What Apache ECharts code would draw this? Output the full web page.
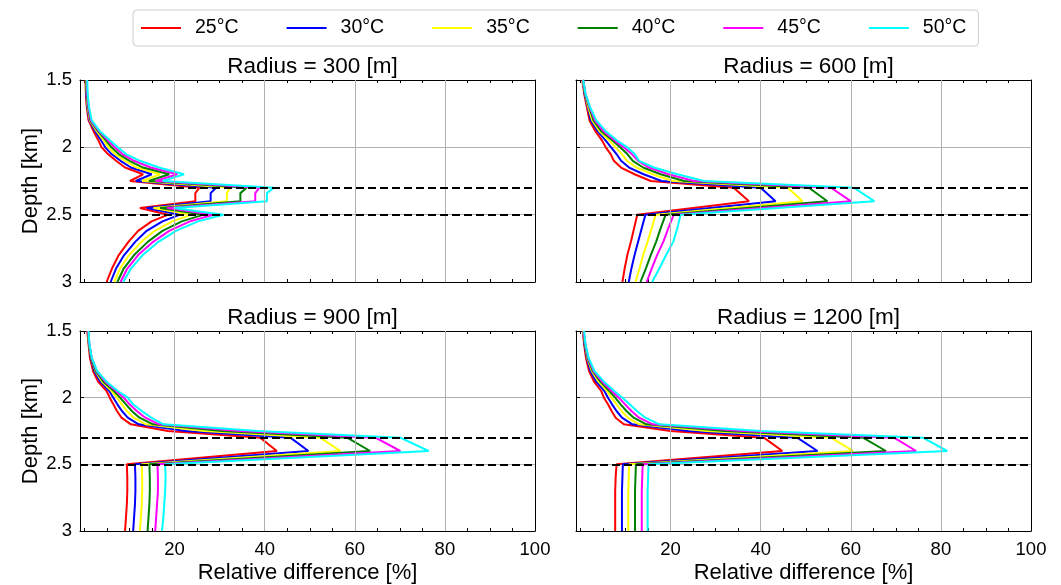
<!DOCTYPE html>
<html><head><meta charset="utf-8">
<script src="https://cdn.jsdelivr.net/npm/echarts@6/dist/echarts.min.js"></script>
<style>html,body{margin:0;padding:0;background:#fff}#c{width:1061px;height:585px}</style>
</head><body><div id="c"></div>
<script>
// ---------- data ----------
const temps = ['25°C', '30°C', '35°C', '40°C', '45°C', '50°C'];
const radiusTitles = ['Radius = 300 [m]', 'Radius = 600 [m]', 'Radius = 900 [m]', 'Radius = 1200 [m]'];
const xLabelTicks = [20, 40, 60, 80, 100];
const xMinorTicks = [0, 5, 10, 15, 20, 25, 30, 35, 40, 45, 50, 55, 60, 65, 70, 75, 80, 85, 90, 95, 100];
const xGridValues = [20, 40, 60, 80];
const refDepths = [2.3, 2.5];

const depthR300 = [1.5, 1.6, 1.7, 1.8, 1.88, 1.95, 2.0, 2.05, 2.1, 2.15, 2.2, 2.25, 2.3, 2.34, 2.4, 2.45, 2.5, 2.55, 2.62, 2.7, 2.8, 2.9, 3.0];
const depthWide = [1.5, 1.6, 1.7, 1.8, 1.88, 1.95, 2.0, 2.05, 2.1, 2.15, 2.2, 2.25, 2.3, 2.4, 2.5, 2.6, 2.7, 2.8, 2.9, 3.0];

// Radius 300
const r300_25 = [0.2, 0.3, 0.5, 0.9, 2.0, 3.1, 3.8, 5.2, 7.0, 9.0, 13.0, 10.1, 25.5, 24.6, 24.6, 12.3, 18.6, 14.9, 11.9, 9.8, 7.6, 6.1, 4.9];
const r300_30 = [0.3, 0.4, 0.6, 1.1, 2.4, 3.7, 4.6, 6.0, 8.0, 10.3, 14.9, 11.4, 29.2, 28.0, 28.0, 13.8, 21.2, 17.3, 13.8, 11.3, 8.8, 7.0, 5.8];
const r300_35 = [0.3, 0.5, 0.7, 1.2, 2.7, 4.3, 5.3, 6.8, 9.0, 11.6, 16.8, 12.8, 32.3, 31.6, 31.6, 15.3, 23.8, 19.5, 15.6, 12.7, 9.9, 7.9, 6.6];
const r300_40 = [0.4, 0.5, 0.8, 1.3, 3.0, 4.8, 6.0, 7.6, 10.0, 13.0, 18.8, 14.3, 36.0, 34.6, 34.6, 16.8, 26.4, 21.6, 17.3, 14.1, 11.0, 8.7, 7.3];
const r300_45 = [0.5, 0.6, 0.9, 1.4, 3.2, 5.2, 6.7, 8.4, 11.0, 14.7, 20.6, 15.8, 38.8, 37.9, 37.9, 18.3, 28.6, 23.4, 18.8, 15.3, 11.9, 9.5, 8.0];
const r300_50 = [0.6, 0.7, 1.0, 1.6, 3.4, 5.7, 7.4, 9.2, 12.3, 16.5, 22.1, 17.4, 42.0, 40.5, 40.5, 19.8, 30.8, 25.2, 20.3, 16.5, 12.9, 10.3, 8.6];

// Radius 600
const r600_25 = [0.4, 0.8, 1.4, 2.0, 3.3, 4.8, 5.6, 6.7, 7.4, 9.0, 12.0, 15.6, 34.0, 37.4, 12.6, 11.9, 11.2, 10.4, 9.8, 9.3];
const r600_30 = [0.5, 0.9, 1.6, 2.3, 3.8, 5.6, 6.8, 8.0, 9.0, 10.8, 14.0, 18.0, 40.0, 43.3, 14.4, 13.6, 12.8, 12.0, 11.3, 10.7];
const r600_35 = [0.5, 1.0, 1.7, 2.6, 4.2, 6.4, 7.8, 9.2, 10.3, 12.4, 16.0, 20.5, 46.0, 49.3, 16.7, 15.8, 14.9, 13.9, 13.1, 12.2];
const r600_40 = [0.6, 1.0, 1.9, 2.9, 4.6, 7.1, 8.8, 10.4, 11.6, 13.9, 17.8, 23.0, 50.7, 54.8, 18.9, 17.8, 16.8, 15.6, 14.5, 13.3];
const r600_45 = [0.6, 1.1, 2.0, 3.2, 5.1, 7.6, 9.6, 11.4, 12.8, 15.2, 19.5, 25.2, 55.6, 60.0, 20.7, 19.5, 18.4, 17.0, 15.8, 14.7];
const r600_50 = [0.6, 1.1, 2.1, 3.5, 5.6, 8.1, 10.4, 12.0, 13.0, 16.3, 21.5, 27.4, 60.7, 65.2, 22.2, 21.5, 20.6, 19.0, 17.5, 15.9];

// Radius 900
const r900_25 = [0.6, 0.9, 1.2, 1.9, 3.0, 4.9, 5.6, 6.4, 7.2, 8.2, 10.3, 18.5, 39.0, 42.7, 9.4, 9.5, 9.5, 9.4, 9.2, 9.0];
const r900_30 = [0.7, 1.0, 1.4, 2.2, 3.5, 5.5, 6.4, 7.3, 8.3, 9.6, 12.0, 22.5, 45.7, 49.7, 11.2, 11.3, 11.3, 11.2, 11.0, 10.8];
const r900_35 = [0.7, 1.0, 1.5, 2.4, 3.9, 6.0, 7.2, 8.3, 9.4, 10.9, 13.6, 26.5, 52.3, 56.8, 12.7, 12.8, 12.8, 12.7, 12.5, 12.3];
const r900_40 = [0.8, 1.0, 1.5, 2.5, 4.2, 6.5, 7.9, 9.2, 10.5, 12.2, 15.2, 30.5, 58.3, 63.4, 14.4, 14.5, 14.5, 14.4, 14.2, 14.0];
const r900_45 = [0.8, 1.1, 1.6, 2.7, 4.6, 7.0, 8.7, 10.0, 11.6, 13.5, 16.5, 34.5, 64.6, 70.1, 16.2, 16.3, 16.3, 16.1, 15.9, 15.7];
const r900_50 = [0.9, 1.1, 1.6, 2.8, 4.9, 7.4, 9.6, 10.8, 12.7, 14.8, 17.5, 38.5, 70.1, 76.4, 17.9, 18.0, 17.9, 17.7, 17.5, 17.2];

// Radius 1200
const r1200_25 = [0.5, 0.8, 1.2, 1.9, 3.0, 4.6, 5.2, 6.1, 6.9, 7.8, 9.6, 20.0, 40.7, 44.8, 8.0, 7.8, 7.7, 7.7, 7.7, 7.7];
const r1200_30 = [0.6, 0.9, 1.4, 2.2, 3.5, 5.3, 6.1, 7.0, 8.0, 9.2, 11.5, 24.0, 48.1, 52.6, 9.4, 9.3, 9.2, 9.2, 9.2, 9.2];
const r1200_35 = [0.6, 1.0, 1.5, 2.5, 4.0, 5.9, 6.9, 8.0, 9.1, 10.5, 13.0, 28.0, 55.6, 60.5, 10.8, 10.7, 10.6, 10.6, 10.6, 10.6];
const r1200_40 = [0.7, 1.0, 1.6, 2.7, 4.4, 6.4, 7.7, 8.9, 10.2, 11.8, 14.6, 32.0, 62.7, 67.8, 12.3, 12.2, 12.1, 12.1, 12.1, 12.1];
const r1200_45 = [0.7, 1.1, 1.7, 2.9, 4.8, 6.9, 8.5, 9.9, 11.3, 13.0, 16.0, 36.0, 69.6, 74.5, 13.8, 13.7, 13.6, 13.6, 13.6, 13.6];
const r1200_50 = [0.8, 1.1, 1.8, 3.1, 5.2, 7.5, 9.3, 10.9, 12.5, 14.4, 17.5, 40.0, 76.0, 81.4, 15.1, 15.0, 14.9, 14.9, 14.9, 14.9];

// ---------- build ----------
const colors = ['#ff0000', '#0000ff', '#ffff00', '#008000', '#ff00ff', '#00ffff'];
const FONT = "'Liberation Sans', Arial, sans-serif";
const panels = [
  { depth: depthR300, vals: [r300_25, r300_30, r300_35, r300_40, r300_45, r300_50] },
  { depth: depthWide, vals: [r600_25, r600_30, r600_35, r600_40, r600_45, r600_50] },
  { depth: depthWide, vals: [r900_25, r900_30, r900_35, r900_40, r900_45, r900_50] },
  { depth: depthWide, vals: [r1200_25, r1200_30, r1200_35, r1200_40, r1200_45, r1200_50] }
];
const gridPos = [
  { left: 80, top: 80, width: 455, height: 202 },
  { left: 576, top: 80, width: 455, height: 202 },
  { left: 80, top: 331, width: 455, height: 201 },
  { left: 576, top: 331, width: 455, height: 201 }
];

const grids = [], xAxes = [], yAxes = [], series = [], titles = [];
gridPos.forEach((g, i) => {
  const isBottom = i >= 2, isLeft = i % 2 === 0;
  grids.push(Object.assign({ containLabel: false }, g));
  titles.push({
    text: radiusTitles[i], left: g.left + g.width / 2, top: g.top - 30, textAlign: 'center',
    textStyle: { fontFamily: FONT, fontSize: 22.5, fontWeight: 'normal', color: '#000' }
  });
  const xBase = {
    type: 'value', gridIndex: i, min: -1, max: 100,
    axisLine: { show: true, onZero: false, lineStyle: { color: '#000', width: 1 } },
    axisTick: { show: true, inside: true, length: 3, customValues: xMinorTicks, lineStyle: { color: '#000', width: 1 } },
    splitLine: { show: false }
  };
  xAxes.push(Object.assign({}, xBase, {
    position: 'bottom',
    axisLabel: { show: isBottom, customValues: xLabelTicks, margin: 9, fontFamily: FONT, fontSize: 18.5, color: '#000' },
    name: isBottom ? 'Relative difference [%]' : '', nameLocation: 'middle', nameGap: 31,
    nameTextStyle: { fontFamily: FONT, fontSize: 22, color: '#000' }
  }));
  xAxes.push(Object.assign({}, xBase, { position: 'top', axisLabel: { show: false } }));
  yAxes.push({
    type: 'value', gridIndex: i, min: 1.5, max: 3, interval: 0.5, inverse: true, position: 'left',
    axisLine: { show: true, onZero: false, lineStyle: { color: '#000', width: 1 } },
    axisTick: { show: true, inside: true, length: 4, lineStyle: { color: '#000', width: 1 } },
    axisLabel: { show: isLeft, margin: 8, fontFamily: FONT, fontSize: 18.5, color: '#000' },
    splitLine: { show: true, lineStyle: { color: '#b0b0b0', width: 1 } },
    name: isLeft ? 'Depth [km]' : '', nameLocation: 'middle', nameRotate: 90, nameGap: 38,
    nameTextStyle: { fontFamily: FONT, fontSize: 22, color: '#000' }
  });
  yAxes.push({
    type: 'value', gridIndex: i, min: 1.5, max: 3, interval: 0.5, inverse: true, position: 'right',
    axisLine: { show: true, onZero: false, lineStyle: { color: '#000', width: 1 } },
    axisTick: { show: false }, axisLabel: { show: false }, splitLine: { show: false }
  });
  // vertical grid lines
  series.push({
    type: 'line', name: 'grid' + i, xAxisIndex: 2 * i, yAxisIndex: 2 * i, data: [], z: 1, silent: true,
    markLine: { silent: true, symbol: ['none', 'none'], animation: false, label: { show: false },
      lineStyle: { color: '#b0b0b0', width: 1, type: 'solid' },
      data: xGridValues.map(v => ({ xAxis: v })) }
  });
  const p = panels[i];
  p.vals.forEach((arr, j) => {
    series.push({
      type: 'line', name: temps[j], xAxisIndex: 2 * i, yAxisIndex: 2 * i, z: 3,
      symbol: 'none', showSymbol: false, animation: false,
      color: colors[j], lineStyle: { color: colors[j], width: 2 },
      data: arr.map((v, k) => [v, p.depth[k]])
    });
  });
  // dashed reference depths
  series.push({
    type: 'line', name: 'ref' + i, xAxisIndex: 2 * i, yAxisIndex: 2 * i, data: [], z: 5, silent: true,
    markLine: { silent: true, symbol: ['none', 'none'], animation: false, label: { show: false },
      lineStyle: { color: '#000', width: 2, type: [8, 4] },
      data: refDepths.map(d => ({ yAxis: d })) }
  });
});

const chart = echarts.init(document.getElementById('c'), null, { renderer: 'canvas' });
chart.setOption({
  animation: false,
  backgroundColor: '#fff',
  title: titles,
  legend: {
    data: temps, left: 133, top: 10, orient: 'horizontal',
    itemWidth: 40, itemHeight: 14, itemGap: 48,
    padding: [8, 12, 8, 8],
    borderColor: '#cccccc', borderWidth: 1, borderRadius: 4,
    textStyle: { fontFamily: FONT, fontSize: 19.5, color: '#000', padding: [0, 0, 0, 9] },
    icon: 'path://M0,6 L40,6 L40,8 L0,8 Z'
  },
  grid: grids, xAxis: xAxes, yAxis: yAxes, series: series
});
</script>
</body></html>
